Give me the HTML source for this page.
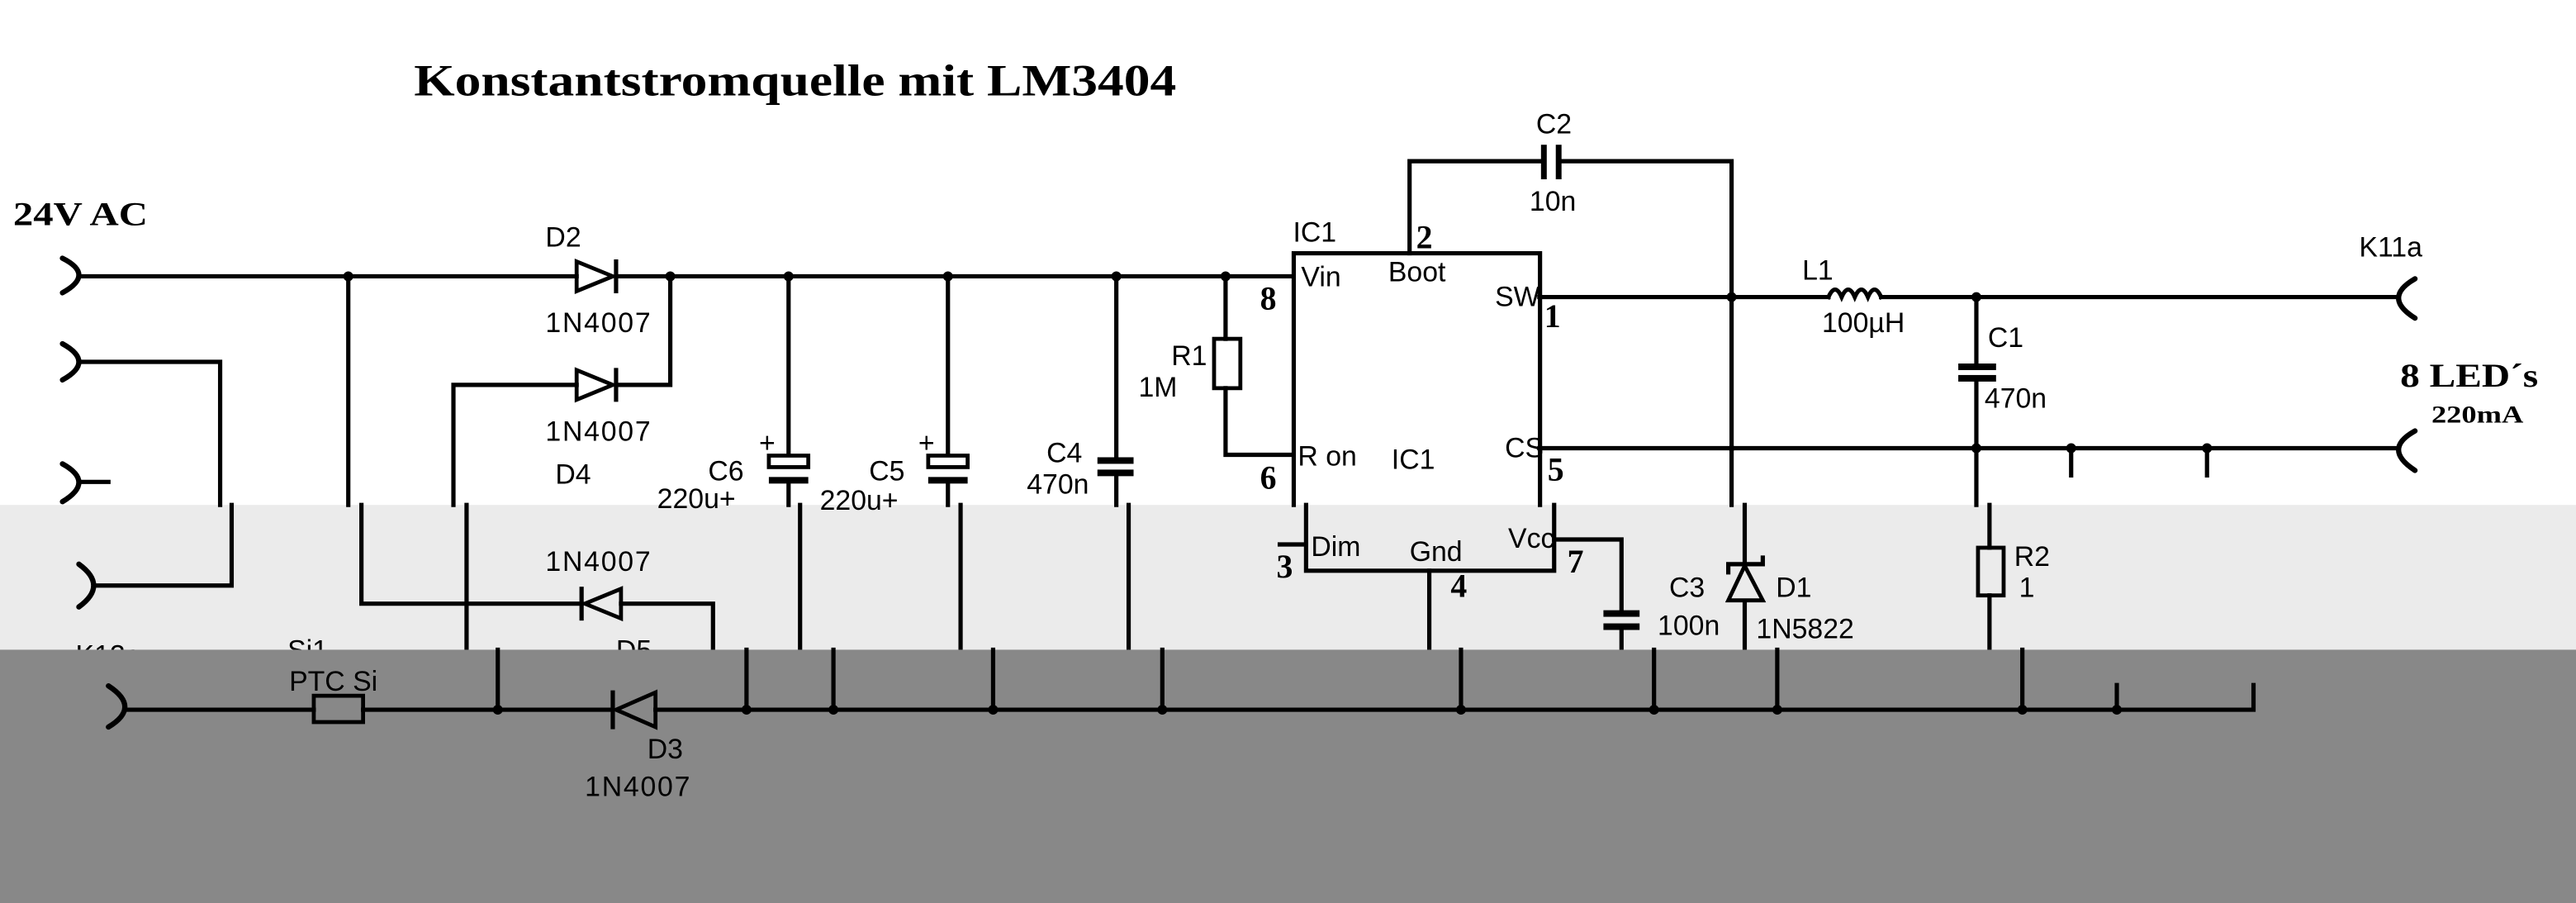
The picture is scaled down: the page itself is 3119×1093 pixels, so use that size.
<!DOCTYPE html>
<html><head><meta charset="utf-8"><style>
html,body{margin:0;padding:0;background:#fff;}
svg{display:block;}
.w{fill:none;stroke:#000;stroke-width:2.6;stroke-linecap:square;}
.a{fill:none;stroke:#000;stroke-width:3.2;stroke-linecap:round;}
.t{font-family:"Liberation Sans",sans-serif;font-size:17px;fill:#000;}
.b{font-family:"Liberation Serif",serif;font-weight:bold;fill:#000;}
</style></head><body>
<svg width="3119" height="1093" viewBox="0 0 1568 549" preserveAspectRatio="none" xmlns="http://www.w3.org/2000/svg">
<rect x="0" y="0" width="1568" height="549" fill="#fff"/>
<rect x="0" y="307" width="1568" height="88" fill="#ebebeb"/>

<!-- ===== WHITE REGION ===== -->
<text class="b" x="252" y="58" font-size="27" textLength="464" lengthAdjust="spacingAndGlyphs">Konstantstromquelle mit LM3404</text>
<text class="b" x="8" y="137" font-size="20" textLength="82" lengthAdjust="spacingAndGlyphs">24V AC</text>
<text class="b" x="1461" y="235" font-size="20" textLength="84" lengthAdjust="spacingAndGlyphs">8 LED´s</text>
<text class="b" x="1480" y="257" font-size="15" textLength="56" lengthAdjust="spacingAndGlyphs">220mA</text>

<!-- connectors left -->
<path class="a" d="M38,157 Q58,167 38,178"/>
<path class="a" d="M38,209 Q58,220 38,231"/>
<path class="a" d="M38,282 Q58,293 38,305"/>
<path class="w" d="M48,293 H66"/>
<!-- top wire -->
<path class="w" d="M49,168 H351 M375,168 H787"/>
<path d="M351,159 L351,177 L373,168 Z" fill="none" stroke="#000" stroke-width="2.4"/>
<path class="w" d="M375,159 V177"/>
<path class="w" d="M49,220 H134 V307"/>
<path class="w" d="M212,168 V307"/>
<path class="w" d="M276,307 V234 H351 M375,234 H408 V168"/>
<path d="M351,225 L351,243 L373,234 Z" fill="none" stroke="#000" stroke-width="2.4"/>
<path class="w" d="M375,225 V243"/>
<!-- C6 -->
<path class="w" d="M480,168 V277 M480,294 V307"/>
<rect x="468" y="277" width="24" height="7" fill="#fff" stroke="#000" stroke-width="2.4"/>
<rect x="468" y="290" width="24" height="4" fill="#000"/>
<text class="t" x="462" y="275" font-size="14">+</text>
<!-- C5 -->
<path class="w" d="M577,168 V277 M577,294 V307"/>
<rect x="565" y="277" width="24" height="7" fill="#fff" stroke="#000" stroke-width="2.4"/>
<rect x="565" y="290" width="24" height="4" fill="#000"/>
<text class="t" x="559" y="275" font-size="14">+</text>
<!-- C4 -->
<path class="w" d="M679.5,168 V278 M679.5,289 V307"/>
<rect x="668" y="278" width="22" height="4" fill="#000"/>
<rect x="668" y="285.5" width="22" height="4" fill="#000"/>
<!-- R1 -->
<path class="w" d="M746,168 V206 M746,236 V276.5 H787"/>
<rect x="739" y="206" width="16" height="30" fill="none" stroke="#000" stroke-width="2.4"/>
<!-- IC -->
<path class="w" d="M787.5,307 V154 H937.4 V307"/>
<path class="w" d="M858,154 V98 H939"/>
<path class="w" d="M950,98 H1054 V307"/>
<rect x="938" y="88" width="3.5" height="21" fill="#000"/>
<rect x="947" y="88" width="3.5" height="21" fill="#000"/>
<!-- SW line & L1 -->
<path class="w" d="M937,180.6 H1113 M1145,180.6 H1458"/>
<path class="w" d="M1113,180.6 q4,-9 8,0 q4,-9 8,0 q4,-9 8,0 q4,-9 8,0"/>
<!-- C1 -->
<path class="w" d="M1203,180.6 V221 M1203,232 V307"/>
<rect x="1192" y="221" width="23" height="4" fill="#000"/>
<rect x="1192" y="228" width="23" height="4" fill="#000"/>
<!-- CS line -->
<path class="w" d="M937,272.5 H1458"/>
<path class="w" d="M1260.7,272.5 V289 M1343.4,272.5 V289"/>
<!-- right connectors -->
<path class="a" d="M1470,169.5 Q1450,181 1470,193.4"/>
<path class="a" d="M1470,262 Q1450,273 1470,286"/>
<!-- junctions -->
<g fill="#000">
<circle cx="212" cy="168" r="3"/><circle cx="408" cy="168" r="3"/><circle cx="480" cy="168" r="3"/>
<circle cx="577" cy="168" r="3"/><circle cx="679.5" cy="168" r="3"/><circle cx="746" cy="168" r="3"/>
<circle cx="1054" cy="180.6" r="3"/><circle cx="1203" cy="180.6" r="3"/><circle cx="1054" cy="272.5" r="2"/>
<circle cx="1203" cy="272.5" r="3"/><circle cx="1260.7" cy="272.5" r="3"/><circle cx="1343.4" cy="272.5" r="3"/>
</g>
<!-- labels white -->
<text class="t" x="332" y="150">D2</text>
<text class="t" x="332" y="202" textLength="64">1N4007</text>
<text class="t" x="332" y="268" textLength="64">1N4007</text>
<text class="t" x="338" y="294">D4</text>
<text class="t" x="431" y="292">C6</text>
<text class="t" x="400" y="309">220u+</text>
<text class="t" x="529" y="292">C5</text>
<text class="t" x="499" y="310">220u+</text>
<text class="t" x="637" y="281">C4</text>
<text class="t" x="625" y="300">470n</text>
<text class="t" x="713" y="222">R1</text>
<text class="t" x="693" y="241">1M</text>
<text class="t" x="787" y="147">IC1</text>
<text class="t" x="792" y="174" font-size="14">Vin</text>
<text class="t" x="845" y="171" font-size="14">Boot</text>
<text class="t" x="910" y="186" font-size="14">SW</text>
<text class="t" x="790" y="283" font-size="14">R on</text>
<text class="t" x="916" y="278" font-size="14">CS</text>
<text class="t" x="847" y="285">IC1</text>
<text class="t" x="935" y="81">C2</text>
<text class="t" x="931" y="128">10n</text>
<text class="t" x="1097" y="170">L1</text>
<text class="t" x="1109" y="202">100µH</text>
<text class="t" x="1210" y="211">C1</text>
<text class="t" x="1208" y="248">470n</text>
<text class="t" x="1436" y="156">K11a</text>
<text class="b" x="767" y="188" font-size="20">8</text>
<text class="b" x="862" y="151" font-size="20">2</text>
<text class="b" x="940" y="199" font-size="20">1</text>
<text class="b" x="767" y="297" font-size="20">6</text>
<text class="b" x="942" y="292" font-size="20">5</text>

<!-- ===== LIGHT BAND ===== -->
<path class="a" d="M48,343 Q66,356 48,369"/>
<path class="w" d="M59,356 H141 V307"/>
<path class="w" d="M220,307 V367 H354 M378,367 H434 V394"/>
<path class="w" d="M354,358 V376"/>
<path d="M356,367 L378,358 L378,376 Z" fill="none" stroke="#000" stroke-width="2.4"/>
<path class="w" d="M284,307 V394"/>
<path class="w" d="M487,307 V394 M584.7,307 V394 M687,307 V394"/>
<path class="w" d="M795,307 V347 H946 V307"/>
<path class="w" d="M779,331 H795 M870,347 V394"/>
<path class="w" d="M946,328 H987 V371 M987,383 V394"/>
<rect x="976" y="371" width="22" height="4" fill="#000"/>
<rect x="976" y="379" width="22" height="4" fill="#000"/>
<path class="w" d="M1062,307 V394"/>
<path d="M1062,344 L1052,365 L1073,365 Z" fill="#ebebeb" stroke="#000" stroke-width="2.4"/>
<path class="w" d="M1052,348 V343 H1073 V339"/>
<path class="w" d="M1211,307 V333 M1211,362 V394"/>
<rect x="1204" y="333" width="15.6" height="29" fill="none" stroke="#000" stroke-width="2.4"/>
<text class="t" x="332" y="347" textLength="64">1N4007</text>
<text class="t" x="375" y="401">D5</text>
<text class="t" x="798" y="338" font-size="14">Dim</text>
<text class="t" x="858" y="341" font-size="14">Gnd</text>
<text class="t" x="918" y="333" font-size="14">Vcc</text>
<text class="t" x="1016" y="363">C3</text>
<text class="t" x="1009" y="386">100n</text>
<text class="t" x="1081" y="363">D1</text>
<text class="t" x="1069" y="388">1N5822</text>
<text class="t" x="1226" y="344">R2</text>
<text class="t" x="1229" y="363">1</text>
<text class="t" x="46" y="404">K12a</text>
<text class="t" x="175" y="401">Si1</text>
<text class="b" x="777" y="351" font-size="20">3</text>
<text class="b" x="883" y="363" font-size="20">4</text>
<text class="b" x="954" y="348" font-size="20">7</text>

<!-- ===== DARK BAND ===== -->
<rect x="0" y="395" width="1568" height="154" fill="#888"/>
<path class="a" d="M66,417 Q86,430 66,442"/>
<path class="w" d="M77,431.5 H191 M221,431.5 H373 M399,431.5 H1371.7 V416.5"/>
<rect x="191" y="423" width="30" height="16" fill="none" stroke="#000" stroke-width="2.4"/>
<path class="w" d="M373,421 V442"/>
<path d="M375,431.5 L399,421 L399,442 Z" fill="none" stroke="#000" stroke-width="2.4"/>
<path class="w" d="M303,395 V431.5 M454.4,395 V431.5 M507.3,395 V431.5 M604.5,395 V431.5 M707.5,395 V431.5 M889.3,395 V431.5 M1006.8,395 V431.5 M1081.8,395 V431.5 M1231,395 V431.5 M1288.5,416.5 V431.5"/>
<g fill="#000">
<circle cx="303" cy="431.5" r="3"/><circle cx="454.4" cy="431.5" r="3"/><circle cx="507.3" cy="431.5" r="3"/>
<circle cx="604.5" cy="431.5" r="3"/><circle cx="707.5" cy="431.5" r="3"/><circle cx="889.3" cy="431.5" r="3"/>
<circle cx="1006.8" cy="431.5" r="3"/><circle cx="1081.8" cy="431.5" r="3"/><circle cx="1231" cy="431.5" r="3"/>
<circle cx="1288.5" cy="431.5" r="3"/>
</g>
<text class="t" x="176" y="420">PTC Si</text>
<text class="t" x="394" y="461">D3</text>
<text class="t" x="356" y="484" textLength="64">1N4007</text>
</svg>
</body></html>
